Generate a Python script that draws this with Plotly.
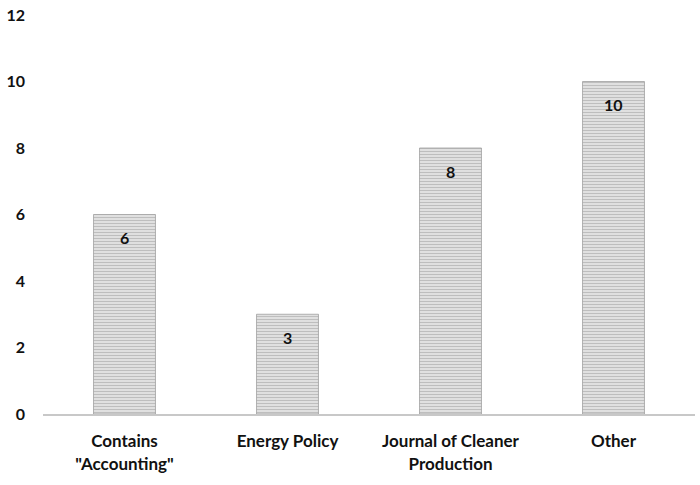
import plotly.graph_objects as go

categories = ['Contains<br>"Accounting"', "Energy Policy", "Journal of Cleaner<br>Production", "Other"]
values = [6, 3, 8, 10]
y_ticks = [0, 2, 4, 6, 8, 10, 12]

font_family = "Lato, Open Sans, sans-serif"

fig = go.Figure()
fig.add_trace(go.Bar(
    x=categories,
    y=values,
    width=0.38,
    marker=dict(
        color="#e8e8e8",
        line=dict(color="#a0a0a0", width=0.8),
        pattern=dict(shape="-", fgcolor="#929292", bgcolor="#ebebeb", size=3, solidity=0.5),
    ),
    hoverinfo="skip",
))

for c, v in zip(categories, values):
    fig.add_annotation(x=c, y=v, text=str(v), showarrow=False, yshift=-23,
                       font=dict(family=font_family, size=16, color="#111111", weight="bold"))

fig.update_layout(
    width=700, height=485,
    margin=dict(l=43, r=5, t=15, b=71),
    paper_bgcolor="white", plot_bgcolor="white",
    showlegend=False,
    font=dict(family=font_family, size=15, color="#111111"),
)
fig.update_xaxes(
    showline=True, linecolor="#c8c8c8", linewidth=2,
    tickfont=dict(family=font_family, size=17, color="#111111", weight="bold"),
    ticks="", showgrid=False, automargin=False, ticklabelstandoff=11,
)
fig.update_yaxes(
    range=[0, 12], tickvals=y_ticks, showgrid=False, zeroline=False, showline=False,
    tickfont=dict(family=font_family, size=16, color="#111111", weight="bold"),
    ticklabelstandoff=17, automargin=False,
)
fig.write_html("out.html", config={"displayModeBar": False},
               post_script="document.body.style.margin='0';")
